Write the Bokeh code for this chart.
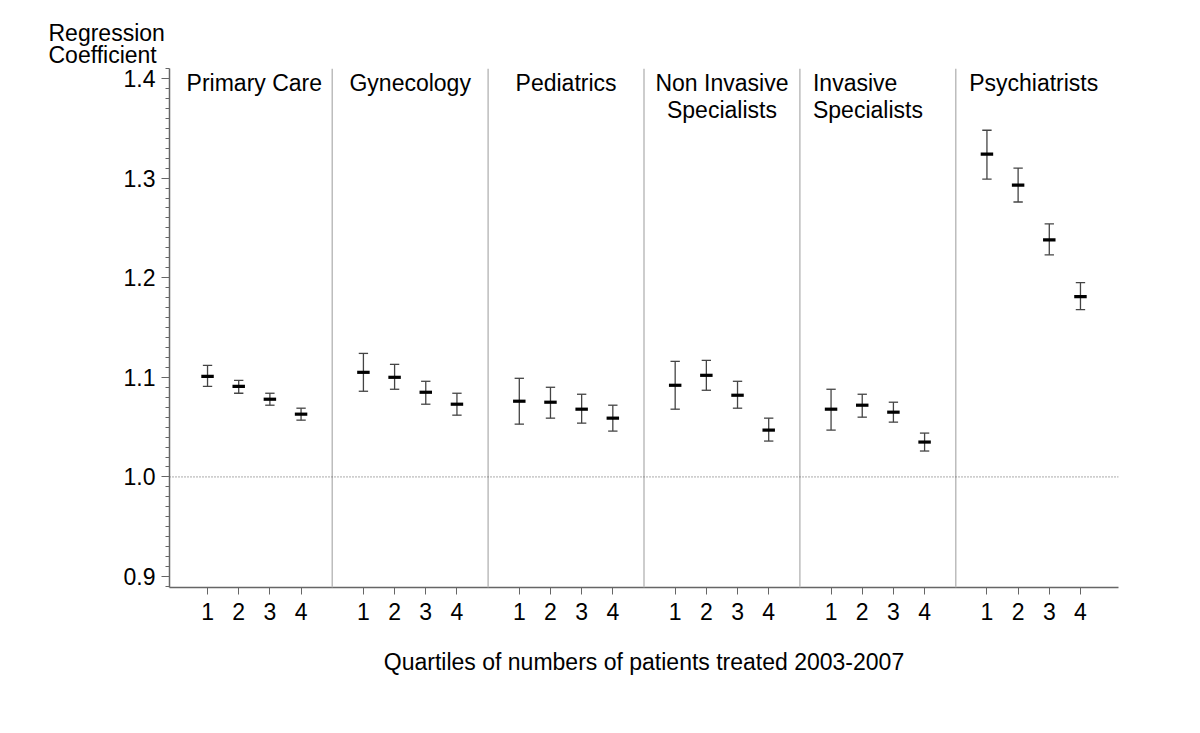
import numpy as np
from bokeh.plotting import figure
from bokeh.models import FixedTicker, Span, Title, PrintfTickFormatter, ColumnDataSource
from bokeh.core.properties import value
from bokeh.embed import file_html
from bokeh.resources import INLINE

# ---------------- data ----------------
groups = ["Primary Care", "Gynecology", "Pediatrics",
          "Non Invasive\nSpecialists", "Invasive\nSpecialists", "Psychiatrists"]
quartiles = [1, 2, 3, 4]

coef_primary = [1.101, 1.091, 1.078, 1.063]
low_primary = [1.091, 1.084, 1.072, 1.057]
high_primary = [1.112, 1.097, 1.084, 1.069]

coef_gyn = [1.105, 1.100, 1.085, 1.073]
low_gyn = [1.086, 1.088, 1.073, 1.062]
high_gyn = [1.124, 1.113, 1.096, 1.084]

coef_ped = [1.076, 1.075, 1.068, 1.059]
low_ped = [1.053, 1.059, 1.054, 1.046]
high_ped = [1.099, 1.090, 1.083, 1.072]

coef_noninv = [1.092, 1.102, 1.082, 1.047]
low_noninv = [1.068, 1.087, 1.069, 1.036]
high_noninv = [1.116, 1.117, 1.096, 1.059]

coef_inv = [1.068, 1.072, 1.065, 1.035]
low_inv = [1.047, 1.060, 1.055, 1.026]
high_inv = [1.088, 1.083, 1.075, 1.044]

coef_psy = [1.324, 1.293, 1.238, 1.181]
low_psy = [1.299, 1.276, 1.223, 1.168]
high_psy = [1.348, 1.310, 1.254, 1.195]

coefs = [coef_primary, coef_gyn, coef_ped, coef_noninv, coef_inv, coef_psy]
lows = [low_primary, low_gyn, low_ped, low_noninv, low_inv, low_psy]
highs = [high_primary, high_gyn, high_ped, high_noninv, high_inv, high_psy]

y_major = [0.9, 1.0, 1.1, 1.2, 1.3, 1.4]

# ---------------- layout constants ----------------
GROUP_W = 5
FONT = "Liberation Sans"
FS = "23px"

xs, cs, ls, hs = [], [], [], []
for g in range(len(groups)):
    for i, q in enumerate(quartiles):
        xs.append(g * GROUP_W + q)
        cs.append(coefs[g][i])
        ls.append(lows[g][i])
        hs.append(highs[g][i])
xs = np.array(xs, dtype=float)
src = ColumnDataSource(dict(
    x=xs, c=cs, lo=ls, hi=hs,
    cap_l=xs - 0.15, cap_r=xs + 0.15,
    mid_l=xs - 0.2, mid_r=xs + 0.2,
))

n = len(groups)
p = figure(
    frame_width=949, frame_height=519,
    min_border_left=169, min_border_right=66,
    min_border_top=68, min_border_bottom=130,
    x_range=(-0.22, n * GROUP_W + 0.22), y_range=(0.889, 1.41),
    output_backend="svg", toolbar_location=None,
    background_fill_color="white", border_fill_color="white",
)
p.outline_line_color = None
p.grid.visible = False

# y axis title (horizontal, top-left)
ttl = Title(text="Regression\nCoefficient", align="left", offset=-121,
            text_font=FONT, text_font_size=FS, text_font_style="normal",
            text_color="black", text_line_height=0.85, standoff=0)
p.add_layout(ttl, "above")

# separators
for g in range(1, n):
    p.add_layout(Span(location=g * GROUP_W, dimension="height",
                      line_color="#bdbdbd", line_width=1.5))
# reference line at 1.0
p.add_layout(Span(location=1.0, dimension="width", line_color="#555555",
                  line_width=1, line_dash="1 2"))

# error bars
p.segment(x0="x", y0="lo", x1="x", y1="hi", source=src, line_color="#444444", line_width=1.3)
p.segment(x0="cap_l", y0="lo", x1="cap_r", y1="lo", source=src, line_color="#444444", line_width=1.3)
p.segment(x0="cap_l", y0="hi", x1="cap_r", y1="hi", source=src, line_color="#444444", line_width=1.3)
p.segment(x0="mid_l", y0="c", x1="mid_r", y1="c", source=src, line_color="black", line_width=3.2)

# group labels
centers = [g * GROUP_W + 2.5 for g in range(n)]
center_idx = [g for g in range(n) if g != 4]
p.text(x=[centers[g] for g in center_idx], y=[1.4085] * len(center_idx),
       text=[groups[g] for g in center_idx],
       text_align="center", text_baseline="top",
       text_font=value(FONT), text_font_size=FS, text_color="black",
       text_line_height=1.05)
p.text(x=[4 * GROUP_W + 0.42], y=[1.4085], text=[groups[4]],
       text_align="left", text_baseline="top",
       text_font=value(FONT), text_font_size=FS, text_color="black",
       text_line_height=1.05)

# axes
xa = p.xaxis[0]
xa.ticker = FixedTicker(ticks=list(xs))
xa.major_label_overrides = {int(x): str(q) for x, q in zip(xs, quartiles * n)}
xa.minor_tick_line_color = None
xa.major_tick_in = 0
xa.major_tick_out = 7
xa.major_tick_line_color = "#666666"
xa.axis_line_color = "#666666"
xa.axis_line_width = 1.5
xa.major_label_text_font = FONT
xa.major_label_text_font_size = FS
xa.major_label_text_color = "black"
xa.major_label_standoff = 8
xa.axis_label = "Quartiles of numbers of patients treated 2003-2007"
xa.axis_label_text_font = FONT
xa.axis_label_text_font_size = FS
xa.axis_label_text_font_style = "normal"
xa.axis_label_text_color = "black"
xa.axis_label_standoff = 26

ya = p.yaxis[0]
ya.ticker = FixedTicker(ticks=y_major,
                        minor_ticks=[round(v, 2) for v in np.arange(0.89, 1.4101, 0.01)])
ya.formatter = PrintfTickFormatter(format="%.1f")
ya.major_tick_in = 0
ya.major_tick_out = 8
ya.minor_tick_in = 0
ya.minor_tick_out = 4
ya.major_tick_line_color = "#666666"
ya.minor_tick_line_color = "#666666"
ya.axis_line_color = "#666666"
ya.axis_line_width = 1.5
ya.major_label_text_font = FONT
ya.major_label_text_font_size = FS
ya.major_label_text_color = "black"
ya.major_label_standoff = 6

open("out.html", "w").write(file_html(p, INLINE))
